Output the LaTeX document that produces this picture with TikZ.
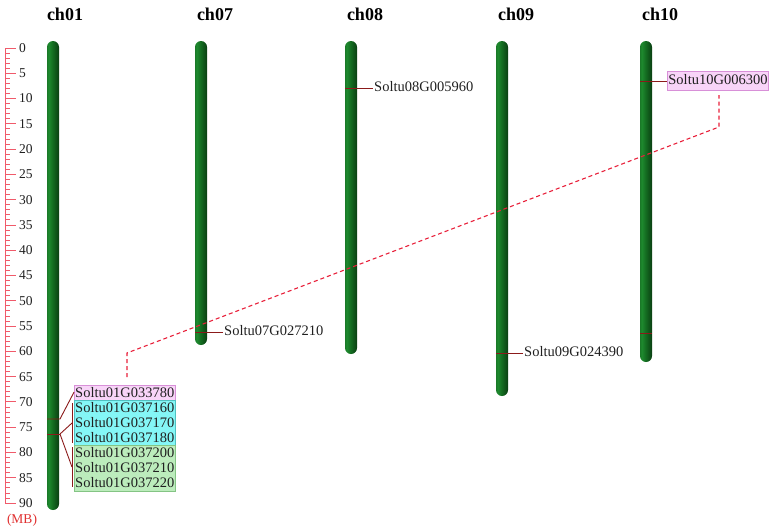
\documentclass[tikz,border=0pt]{standalone}
\usepackage{fontspec}
\setmainfont{Liberation Serif}
\usetikzlibrary{fit,backgrounds}
\definecolor{axisred}{HTML}{F05A6A}
\definecolor{mbred}{HTML}{E03030}
\definecolor{mk}{HTML}{8B1A1A}
\definecolor{dashred}{HTML}{E8203A}
\definecolor{pinkf}{HTML}{F8D4F8}
\definecolor{pinkd}{HTML}{D890D8}
\definecolor{cyanf}{HTML}{84F6F6}
\definecolor{cyand}{HTML}{50C0C0}
\definecolor{greenf}{HTML}{BCECBC}
\definecolor{greend}{HTML}{84C484}
\definecolor{txt}{HTML}{202020}
\definecolor{cdark}{HTML}{0B3E12}
\definecolor{cmid}{HTML}{1E8A2E}
\definecolor{cmid2}{HTML}{136A20}
\definecolor{cdk2}{HTML}{021204}
\pgfdeclarehorizontalshading{chrom}{100bp}{color(0bp)=(cdark); color(32bp)=(cmid); color(50bp)=(cmid2); color(100bp)=(cdk2)}
\tikzset{
  chromo/.style={shading=chrom, rounded corners=6pt},
  chtitle/.style={font=\fontsize{18}{18}\bfseries, text=black, inner sep=0pt},
  ticklbl/.style={font=\fontsize{13.5}{14}\selectfont, text=txt, anchor=west, inner sep=0pt},
  gene/.style={font=\fontsize{14.5}{15}\selectfont, text=txt, inner xsep=1pt, inner ysep=0pt,
    minimum height=15pt, text height=10.5pt, text depth=3pt, anchor=west},
  gmark/.style={mk, line width=0.9pt},
  link/.style={dashred, line width=1.1pt, dash pattern=on 4pt off 3pt},
  grp/.style={inner sep=0pt, line width=0.8pt}
}
\begin{document}
\begin{tikzpicture}[x=1pt,y=-1pt]
\useasboundingbox (0,0) rectangle (778,530);

% axis
\draw[axisred, line width=1pt] (5,48) -- (5,503);
\foreach \m in {0,...,90}{
  \pgfmathsetmacro\yy{48+\m*5.0556}
  \draw[axisred, line width=0.8pt] (5,\yy) -- (10,\yy);
}
\foreach \m in {0,5,...,90}{
  \pgfmathsetmacro\yy{48+\m*5.0556}
  \draw[axisred, line width=0.8pt] (5,\yy) -- (16,\yy);
  \node[ticklbl] (tl\m) at (19,\yy) {\m};
}
\node[font=\fontsize{13.5}{14}\selectfont, text=mbred, inner sep=0pt] (mb) at (22,520) {(MB)};

% chromosome titles
\node[chtitle] (t01) at (65,14) {ch01};
\node[chtitle] (t07) at (215,14) {ch07};
\node[chtitle] (t08) at (365,14) {ch08};
\node[chtitle] (t09) at (516,14) {ch09};
\node[chtitle] (t10) at (660,14) {ch10};

% chromosomes
\shade[chromo] (47,41) rectangle (59,510);
\shade[chromo] (195,41) rectangle (207,345);
\shade[chromo] (345,41) rectangle (357,354);
\shade[chromo] (496,41) rectangle (508,396);
\shade[chromo] (640,41) rectangle (652,362);

% single-gene labels
\coordinate (m08) at (345,88);
\node[gene] (g08) at (373,88) {Soltu08G005960};
\draw[gmark] (m08) -- (g08.west);

\coordinate (m07) at (195,332);
\node[gene] (g07) at (223,332) {Soltu07G027210};
\draw[gmark] (m07) -- (g07.west);

\coordinate (m09) at (496,353);
\node[gene] (g09) at (523,353) {Soltu09G024390};
\draw[gmark] (m09) -- (g09.west);

\coordinate (m10) at (640,81);
\node[gene, fill=pinkf, draw=pinkd, line width=0.8pt, minimum height=19pt] (g10) at (667,81) {Soltu10G006300};
\draw[gmark] (m10) -- (g10.west);

\coordinate (m10b) at (640,333);
\coordinate (m10c) at (652,333);
\draw[gmark] (m10b) -- (m10c);

% ch01 gene cluster
\node[gene] (g1) at (74,393.5) {Soltu01G033780};
\node[gene] (g2) at (74,408.5) {Soltu01G037160};
\node[gene] (g3) at (74,423.5) {Soltu01G037170};
\node[gene] (g4) at (74,438.5) {Soltu01G037180};
\node[gene] (g5) at (74,453.5) {Soltu01G037200};
\node[gene] (g6) at (74,468.5) {Soltu01G037210};
\node[gene] (g7) at (74,483.5) {Soltu01G037220};
\begin{scope}[on background layer]
  \node[grp, fit=(g1), fill=pinkf, draw=pinkd] (b1) {};
  \node[grp, fit=(g2)(g4), fill=cyanf, draw=cyand] (b2) {};
  \node[grp, fit=(g5)(g7), fill=greenf, draw=greend] (b3) {};
\end{scope}

\coordinate (c1a) at (47,419);
\coordinate (c1b) at (60,419);
\coordinate (c2a) at (47,434);
\coordinate (c2b) at (60,434);
\draw[gmark] (c1a) -- (c1b) -- (72,396) -- (74,392);
\draw[gmark] (c2a) -- (c2b);
\draw[gmark] (72,403) -- (72,443);
\draw[gmark] (72,447) -- (72,487);
\draw[gmark] (c2b) -- (72,423);
\draw[gmark] (c2b) -- (72,467);

% synteny link
\coordinate (d1) at (127,377);
\coordinate (d2) at (127,353);
\coordinate (d3) at (719,127);
\coordinate (d4) at (719,95);
\draw[link] (d1) -- (d2) -- (d3) -- (d4);
\end{tikzpicture}
\end{document}
